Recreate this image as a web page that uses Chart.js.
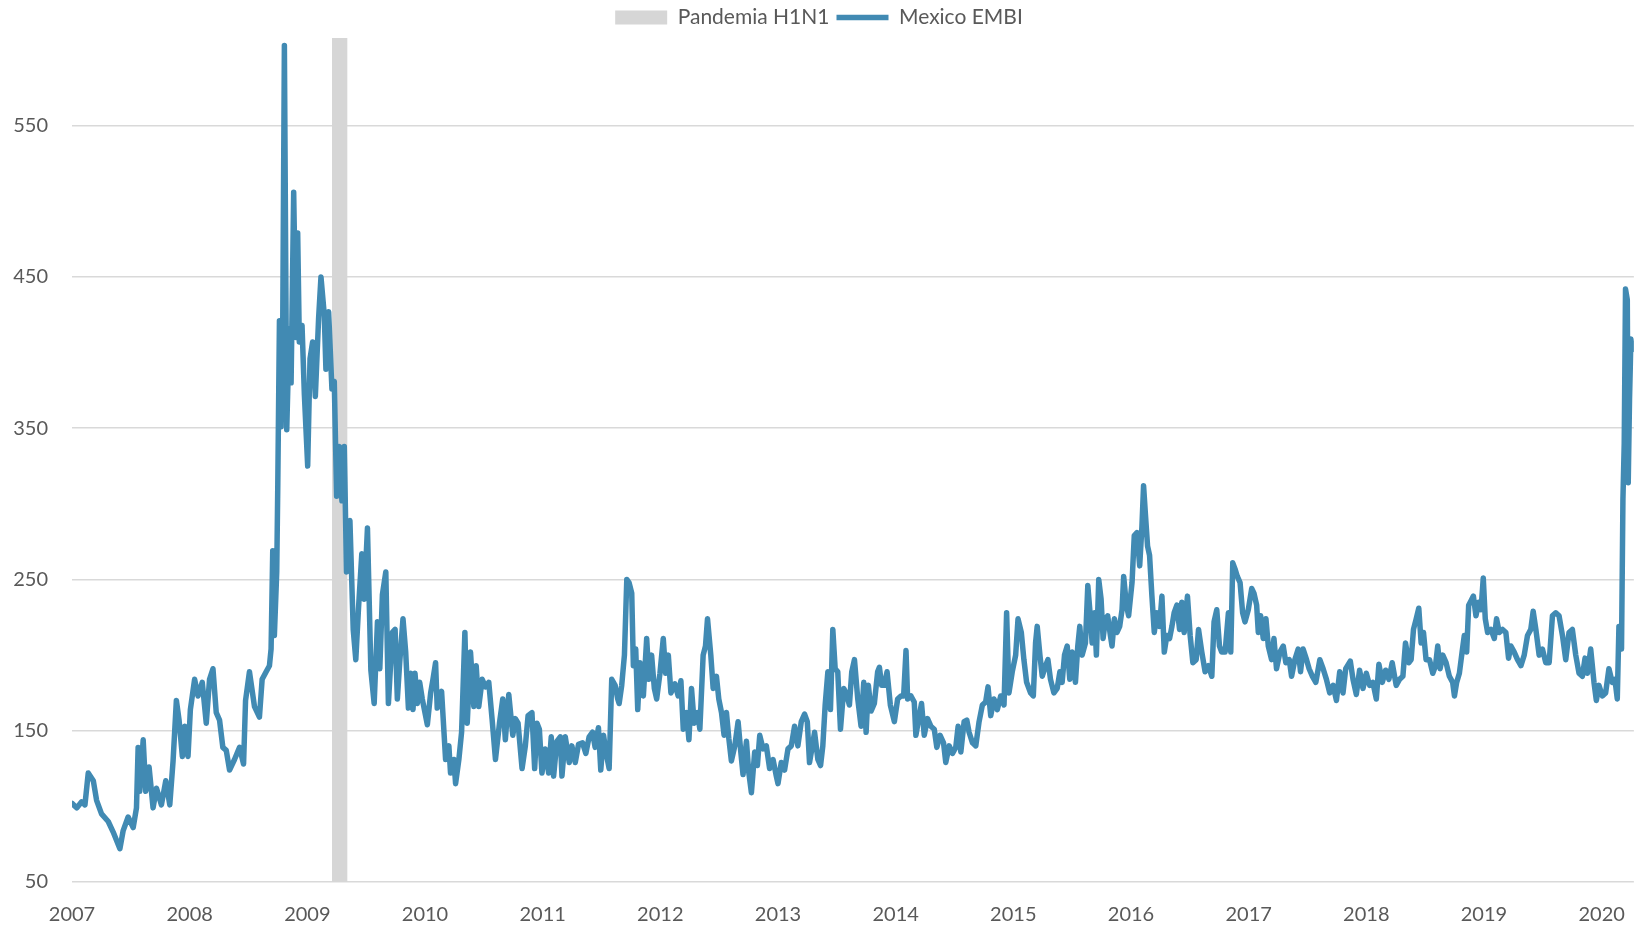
<!DOCTYPE html>
<html>
<head>
<meta charset="utf-8">
<title>Mexico EMBI</title>
<script src="https://cdn.jsdelivr.net/npm/chart.js@4.4.1/dist/chart.umd.min.js"></script>
<style>
  body { margin: 0; background: #ffffff; }
</style>
</head>
<body>
<canvas id="myChart" width="1646" height="930"></canvas>
<script>
// fechas en años decimales (lecturas aproximadas del gráfico)
var fechas = [
  2007.000, 2007.040, 2007.082, 2007.110, 2007.138, 2007.181, 2007.209, 2007.251, 2007.308, 2007.350, 2007.407, 2007.435, 2007.477, 2007.520, 2007.548, 2007.562, 2007.576, 2007.605, 2007.627, 2007.655, 2007.689, 2007.718, 2007.760, 2007.797, 2007.831, 2007.859, 2007.887, 2007.910, 2007.938, 2007.958, 2007.986,
  2008.006, 2008.042, 2008.071, 2008.107, 2008.141, 2008.169, 2008.198, 2008.226, 2008.254, 2008.282, 2008.311, 2008.339, 2008.381, 2008.424, 2008.458, 2008.475, 2008.508, 2008.551, 2008.593, 2008.616, 2008.650, 2008.678, 2008.692, 2008.706, 2008.720, 2008.740, 2008.749, 2008.763, 2008.777, 2008.791, 2008.805, 2008.825, 2008.847, 2008.862, 2008.884, 2008.904, 2008.918, 2008.932, 2008.955, 2008.975,
  2009.003, 2009.023, 2009.045, 2009.068, 2009.096, 2009.116, 2009.144, 2009.158, 2009.181, 2009.209, 2009.229, 2009.249, 2009.271, 2009.294, 2009.314, 2009.333, 2009.362, 2009.390, 2009.412, 2009.435, 2009.463, 2009.483, 2009.511, 2009.540, 2009.568, 2009.596, 2009.616, 2009.638, 2009.667, 2009.689, 2009.723, 2009.746, 2009.765, 2009.785, 2009.813, 2009.836, 2009.859, 2009.878, 2009.898, 2009.915, 2009.935, 2009.955, 2009.977,
  2010.020, 2010.048, 2010.068, 2010.090, 2010.104, 2010.141, 2010.175, 2010.203, 2010.217, 2010.246, 2010.260, 2010.288, 2010.311, 2010.339, 2010.359, 2010.387, 2010.415, 2010.435, 2010.457, 2010.486, 2010.514, 2010.542, 2010.570, 2010.599, 2010.633, 2010.661, 2010.683, 2010.712, 2010.746, 2010.768, 2010.791, 2010.825, 2010.853, 2010.876, 2010.909, 2010.932, 2010.952, 2010.972, 2010.994,
  2011.022, 2011.051, 2011.073, 2011.093, 2011.121, 2011.150, 2011.164, 2011.192, 2011.226, 2011.248, 2011.277, 2011.305, 2011.339, 2011.367, 2011.395, 2011.424, 2011.446, 2011.474, 2011.494, 2011.517, 2011.545, 2011.565, 2011.587, 2011.616, 2011.638, 2011.650, 2011.672, 2011.695, 2011.715, 2011.734, 2011.757, 2011.771, 2011.791, 2011.808, 2011.828, 2011.856, 2011.884, 2011.904, 2011.926, 2011.949, 2011.969, 2011.997,
  2012.025, 2012.045, 2012.068, 2012.090, 2012.124, 2012.152, 2012.175, 2012.195, 2012.223, 2012.243, 2012.265, 2012.288, 2012.316, 2012.336, 2012.364, 2012.384, 2012.401, 2012.429, 2012.449, 2012.477, 2012.497, 2012.520, 2012.542, 2012.562, 2012.582, 2012.604, 2012.633, 2012.661, 2012.684, 2012.703, 2012.732, 2012.751, 2012.774, 2012.802, 2012.825, 2012.845, 2012.873, 2012.901, 2012.929, 2012.958, 2012.986,
  2013.000, 2013.028, 2013.056, 2013.085, 2013.113, 2013.141, 2013.169, 2013.198, 2013.226, 2013.249, 2013.268, 2013.288, 2013.311, 2013.339, 2013.362, 2013.381, 2013.401, 2013.424, 2013.446, 2013.466, 2013.486, 2013.508, 2013.531, 2013.559, 2013.579, 2013.607, 2013.627, 2013.650, 2013.678, 2013.706, 2013.729, 2013.749, 2013.768, 2013.791, 2013.819, 2013.847, 2013.862, 2013.881, 2013.904, 2013.927, 2013.955, 2013.989,
  2014.017, 2014.045, 2014.068, 2014.088, 2014.102, 2014.130, 2014.158, 2014.172, 2014.201, 2014.220, 2014.243, 2014.271, 2014.299, 2014.328, 2014.350, 2014.378, 2014.407, 2014.426, 2014.455, 2014.483, 2014.511, 2014.531, 2014.554, 2014.582, 2014.605, 2014.624, 2014.653, 2014.681, 2014.709, 2014.737, 2014.765, 2014.785, 2014.808, 2014.836, 2014.864, 2014.893, 2014.921, 2014.943, 2014.963, 2014.991,
  2015.020, 2015.040, 2015.068, 2015.090, 2015.113, 2015.147, 2015.170, 2015.189, 2015.203, 2015.226, 2015.246, 2015.274, 2015.294, 2015.316, 2015.345, 2015.373, 2015.396, 2015.415, 2015.435, 2015.458, 2015.480, 2015.500, 2015.528, 2015.548, 2015.565, 2015.585, 2015.613, 2015.633, 2015.650, 2015.670, 2015.689, 2015.706, 2015.726, 2015.746, 2015.763, 2015.783, 2015.802, 2015.825, 2015.839, 2015.859, 2015.881, 2015.904, 2015.924, 2015.938, 2015.961, 2015.980,
  2016.009, 2016.028, 2016.051, 2016.074, 2016.093, 2016.107, 2016.122, 2016.141, 2016.158, 2016.178, 2016.198, 2016.220, 2016.243, 2016.263, 2016.283, 2016.305, 2016.328, 2016.348, 2016.367, 2016.390, 2016.413, 2016.432, 2016.452, 2016.480, 2016.503, 2016.526, 2016.554, 2016.574, 2016.602, 2016.630, 2016.658, 2016.687, 2016.706, 2016.729, 2016.752, 2016.771, 2016.800, 2016.828, 2016.848, 2016.865, 2016.884, 2016.904, 2016.927, 2016.949, 2016.969, 2016.997,
  2017.026, 2017.045, 2017.068, 2017.082, 2017.102, 2017.124, 2017.147, 2017.167, 2017.195, 2017.215, 2017.237, 2017.266, 2017.294, 2017.316, 2017.345, 2017.365, 2017.393, 2017.421, 2017.441, 2017.463, 2017.492, 2017.514, 2017.542, 2017.571, 2017.605, 2017.633, 2017.661, 2017.689, 2017.718, 2017.746, 2017.774, 2017.802, 2017.825, 2017.864, 2017.887, 2017.915, 2017.943, 2017.972,
  2018.000, 2018.028, 2018.056, 2018.085, 2018.107, 2018.136, 2018.164, 2018.192, 2018.220, 2018.254, 2018.282, 2018.311, 2018.333, 2018.362, 2018.381, 2018.401, 2018.424, 2018.446, 2018.466, 2018.486, 2018.508, 2018.537, 2018.565, 2018.588, 2018.607, 2018.627, 2018.650, 2018.678, 2018.706, 2018.734, 2018.749, 2018.768, 2018.791, 2018.814, 2018.833, 2018.853, 2018.870, 2018.890, 2018.910, 2018.932, 2018.955, 2018.975, 2018.994,
  2019.011, 2019.031, 2019.059, 2019.088, 2019.107, 2019.130, 2019.158, 2019.186, 2019.209, 2019.229, 2019.257, 2019.285, 2019.314, 2019.342, 2019.370, 2019.398, 2019.418, 2019.441, 2019.469, 2019.497, 2019.525, 2019.554, 2019.582, 2019.610, 2019.638, 2019.667, 2019.695, 2019.723, 2019.751, 2019.780, 2019.808, 2019.836, 2019.859, 2019.879, 2019.907, 2019.935, 2019.955, 2019.977,
  2020.006, 2020.034, 2020.062, 2020.090, 2020.113, 2020.133, 2020.147, 2020.169, 2020.181, 2020.192, 2020.203, 2020.218, 2020.226, 2020.237, 2020.249, 2020.260, 2020.274
];

// spread EMBI Mexico (pb)
var embi = [
  102, 99, 103, 101, 122, 117, 104, 95, 90, 83, 72, 84, 93, 86, 99, 139, 110, 144, 110, 126, 99, 112, 101, 117, 101, 130, 170, 157, 133, 153, 133,
  164, 184, 173, 182, 155, 184, 191, 162, 157, 139, 137, 124, 131, 139, 128, 170, 189, 166, 159, 184, 189, 193, 204, 269, 213, 255, 313, 421, 351, 418, 603, 349, 416, 380, 506, 410, 479, 407, 418, 372,
  325, 396, 407, 371, 423, 450, 425, 389, 427, 376, 381, 305, 338, 302, 338, 255, 289, 217, 197, 231, 267, 237, 284, 190, 168, 222, 191, 240, 255, 168, 215, 217, 171, 195, 224, 202, 165, 188, 164, 188, 168, 182, 171,
  154, 175, 184, 195, 165, 176, 131, 140, 122, 131, 115, 131, 149, 215, 155, 202, 166, 193, 166, 184, 179, 182, 158, 131, 155, 171, 144, 174, 147, 158, 155, 125, 140, 160, 162, 125, 155, 151, 122,
  138, 122, 146, 120, 143, 146, 120, 146, 129, 140, 129, 141, 142, 135, 146, 149, 139, 152, 124, 147, 133, 125, 184, 180, 171, 168, 180, 200, 250, 248, 241, 193, 204, 164, 195, 173, 211, 184, 200, 178, 171, 188,
  211, 188, 200, 175, 181, 173, 183, 151, 162, 144, 178, 155, 162, 151, 200, 206, 224, 200, 178, 186, 171, 162, 147, 162, 145, 130, 140, 156, 136, 121, 143, 123, 109, 136, 127, 147, 138, 140, 125, 131, 120,
  115, 129, 124, 138, 140, 153, 140, 156, 161, 156, 129, 138, 149, 131, 127, 140, 167, 189, 164, 217, 191, 189, 151, 178, 175, 167, 189, 197, 171, 153, 182, 149, 180, 163, 168, 189, 192, 180, 180, 189, 167, 156,
  171, 173, 173, 203, 171, 173, 169, 147, 160, 168, 147, 158, 153, 151, 139, 147, 142, 129, 140, 135, 139, 153, 136, 156, 157, 149, 142, 140, 156, 167, 169, 179, 160, 171, 164, 173, 167, 228, 175, 189,
  200, 224, 215, 197, 182, 175, 173, 208, 219, 200, 186, 193, 197, 184, 175, 178, 189, 182, 200, 206, 184, 202, 182, 206, 219, 200, 208, 246, 230, 208, 228, 200, 250, 237, 211, 224, 226, 213, 206, 224, 215, 219, 230, 252, 233, 226,
  248, 279, 281, 259, 285, 312, 294, 272, 266, 239, 215, 228, 219, 239, 202, 213, 211, 219, 228, 233, 217, 235, 215, 239, 213, 195, 197, 217, 202, 189, 193, 186, 222, 230, 206, 202, 202, 228, 202, 261, 257, 252, 248, 228, 222, 230,
  244, 241, 233, 215, 226, 211, 224, 206, 197, 211, 191, 202, 206, 195, 197, 186, 197, 204, 189, 204, 197, 191, 186, 182, 197, 191, 184, 175, 180, 170, 189, 175, 191, 196, 184, 174, 190, 178,
  188, 180, 182, 171, 194, 182, 190, 184, 195, 180, 184, 186, 208, 195, 197, 217, 224, 231, 208, 215, 197, 197, 188, 193, 206, 191, 200, 195, 186, 182, 173, 182, 188, 202, 213, 202, 233, 236, 239, 226, 235, 230, 251,
  224, 215, 217, 211, 224, 215, 217, 215, 198, 206, 202, 197, 193, 200, 213, 217, 229, 217, 200, 204, 195, 195, 226, 228, 226, 213, 197, 215, 217, 200, 188, 186, 198, 188, 204, 182, 170, 180,
  173, 175, 191, 182, 184, 171, 219, 204, 303, 340, 442, 435, 314, 369, 409, 402, 405
];

// periodo de la pandemia H1N1 (sombreado hasta el tope del eje)
var pandemiaFechas = [2009.209, 2009.342];
var pandemiaAltura = [608, 608];

// etiquetas de los ejes
var anios = [2007, 2008, 2009, 2010, 2011, 2012, 2013, 2014, 2015, 2016, 2017, 2018, 2019, 2020];
var nivelesY = [50, 150, 250, 350, 450, 550];

var gris = '#595959';
var fuente = { family: 'Lato', size: 20 };

var puntosEmbi = fechas.map(function (f, i) { return { x: f, y: embi[i] }; });
var puntosPandemia = pandemiaFechas.map(function (f, i) { return { x: f, y: pandemiaAltura[i] }; });

var ctx = document.getElementById('myChart').getContext('2d');
var myChart = new Chart(ctx, {
  type: 'line',
  data: {
    datasets: [{
      label: 'Pandemia H1N1',
      data: puntosPandemia,
      backgroundColor: '#d6d6d6',
      borderColor: 'rgba(0,0,0,0)',
      borderWidth: 0,
      fill: 'start',
      pointRadius: 0,
      pointStyle: 'rect',
      order: 2
    }, {
      label: 'Mexico EMBI',
      data: puntosEmbi,
      borderColor: '#418ab3',
      backgroundColor: '#418ab3',
      borderWidth: 5.5,
      borderCapStyle: 'round',
      borderJoinStyle: 'round',
      pointRadius: 0,
      pointStyle: 'line',
      tension: 0,
      fill: false,
      order: 1
    }]
  },
  options: {
    responsive: false,
    animation: false,
    devicePixelRatio: 1,
    layout: { padding: { left: 0, right: 8, top: 0, bottom: 0 } },
    plugins: {
      legend: {
        position: 'top',
        labels: {
          usePointStyle: true,
          pointStyleWidth: 52,
          boxHeight: 14,
          padding: 7,
          color: gris,
          font: { family: 'Lato', size: 21 },
          // mantener el orden de los datasets (no el de dibujo)
          sort: function (a, b) { return a.datasetIndex - b.datasetIndex; }
        }
      },
      tooltip: { enabled: false }
    },
    scales: {
      x: {
        type: 'linear',
        min: 2007,
        max: 2020.274,
        afterBuildTicks: function (axis) {
          axis.ticks = anios.map(function (v) { return { value: v }; });
        },
        afterFit: function (scale) { scale.height = 48; },
        ticks: {
          callback: function (v) { return String(v); },
          color: gris,
          font: fuente,
          padding: 21,
          maxRotation: 0,
          autoSkip: false
        },
        grid: { display: false, drawTicks: false },
        border: { display: false }
      },
      y: {
        min: 50,
        max: 608,
        afterBuildTicks: function (axis) {
          axis.ticks = nivelesY.map(function (v) { return { value: v }; });
        },
        afterFit: function (scale) { scale.width = 72; },
        ticks: { color: gris, font: fuente, padding: 24 },
        grid: { color: '#d9d9d9', lineWidth: 1.5, drawTicks: false },
        border: { display: false }
      }
    }
  }
});
</script>
</body>
</html>
